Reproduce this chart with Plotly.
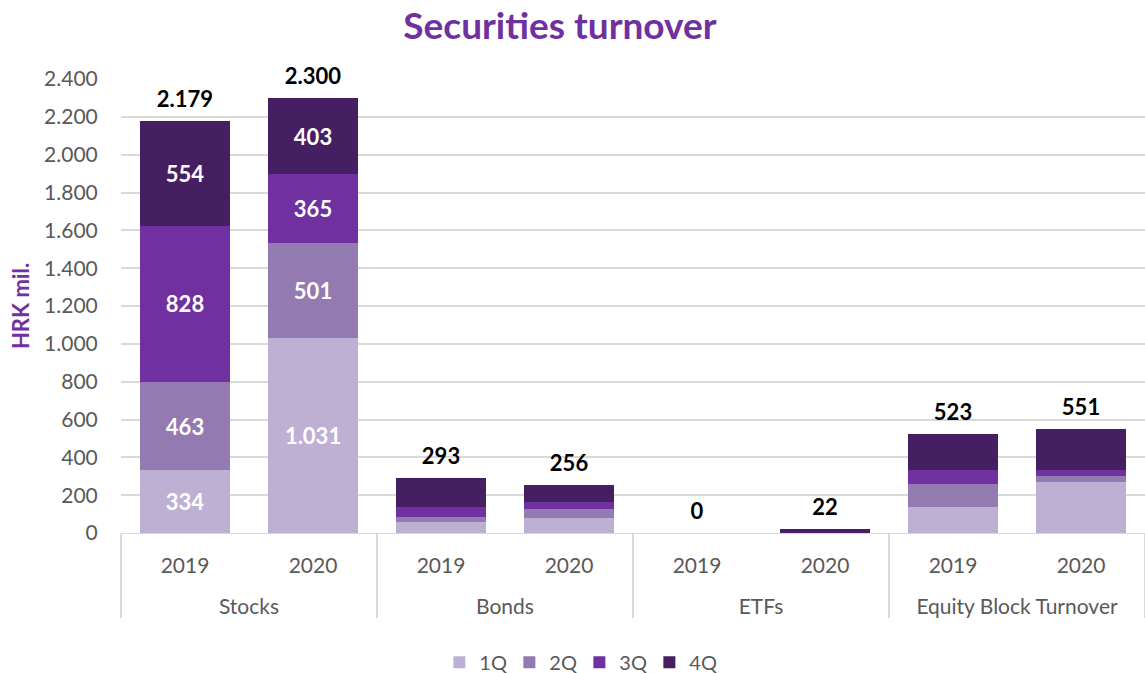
import plotly.graph_objects as go

CATEGORIES = ["Stocks", "Stocks", "Bonds", "Bonds", "ETFs", "ETFs",
              "Equity Block Turnover", "Equity Block Turnover"]
YEARS = ["2019", "2020"] * 4

Q1 = [334, 1031, 58, 79, 0, 0, 138, 270]
Q2 = [463, 501, 27, 48, 0, 0, 121, 32]
Q3 = [828, 365, 53, 37, 0, 0, 73, 32]
Q4 = [554, 403, 155, 92, 0, 22, 191, 217]
TOTALS = [2179, 2300, 293, 256, 0, 22, 523, 551]

SERIES = [("1Q", Q1, "#BEB0D2"), ("2Q", Q2, "#937AB0"),
          ("3Q", Q3, "#7030A0"), ("4Q", Q4, "#461F63")]

FONT = "Lato"


def fmt(v):
    return f"{v:,}".replace(",", ".")


# leading <br> pushes the outer category row further down, as in the original
x = [["<br>" + c for c in CATEGORIES], YEARS]
fig = go.Figure()
for name, vals, color in SERIES:
    labels = [fmt(v) if c == "Stocks" else "" for v, c in zip(vals, CATEGORIES)]
    fig.add_trace(go.Bar(
        x=x, y=vals, name=name, marker_color=color,
        marker_line_width=0,
        text=labels, textposition="inside", insidetextanchor="middle",
        textangle=0,
        textfont=dict(family=FONT, size=22, color="white", weight="bold"),
        hoverinfo="y+name",
    ))

# totals above each stack (invisible marker only offsets the text upward)
fig.add_trace(go.Scatter(
    x=x, y=TOTALS, mode="markers+text", text=[fmt(t) for t in TOTALS],
    marker=dict(size=12, opacity=0), hoverinfo="skip",
    textposition="top center", showlegend=False, cliponaxis=False,
    textfont=dict(family=FONT, size=22, color="black", weight="bold"),
))

fig.update_layout(
    barmode="stack",
    bargap=0.29,
    separators=",.",
    width=1145, height=673,
    margin=dict(l=121, r=0, t=79, b=140),
    paper_bgcolor="white", plot_bgcolor="white",
    font=dict(family=FONT, size=21, color="#595959"),
    title=dict(text="<b>Securities turnover</b>", x=0.489, xanchor="center",
               y=0.962, yanchor="middle",
               font=dict(family=FONT, size=37, color="#7030A0")),
    legend=dict(orientation="h", xref="container", x=0.506, xanchor="center",
                yref="container", y=0.016, yanchor="middle",
                font=dict(size=20, color="#595959"),
                itemwidth=30, entrywidth=25, traceorder="normal"),
    xaxis=dict(type="multicategory", showline=True, linecolor="#D9D9D9",
               automargin=False, ticklabelstandoff=14,
               showdividers=True, dividercolor="#D9D9D9", dividerwidth=1.5,
               tickfont=dict(size=21, color="#595959"), showgrid=False),
    yaxis=dict(range=[0, 2400], dtick=200, showgrid=True, automargin=False,
               gridcolor="#D9D9D9", gridwidth=1.5, zeroline=False,
               tickformat=",d", ticks="outside", ticklen=18, tickcolor="white",
               title=dict(text="<b>HRK mil.</b>", standoff=8,
                          font=dict(size=22, color="#7030A0")),
               tickfont=dict(size=21, color="#595959")),
)

# drop the default page margin so the figure fills the window exactly
fig.write_html(
    "out.html",
    config={"displayModeBar": False},
    post_script="document.body.style.margin='0';document.body.style.overflow='hidden';",
)
